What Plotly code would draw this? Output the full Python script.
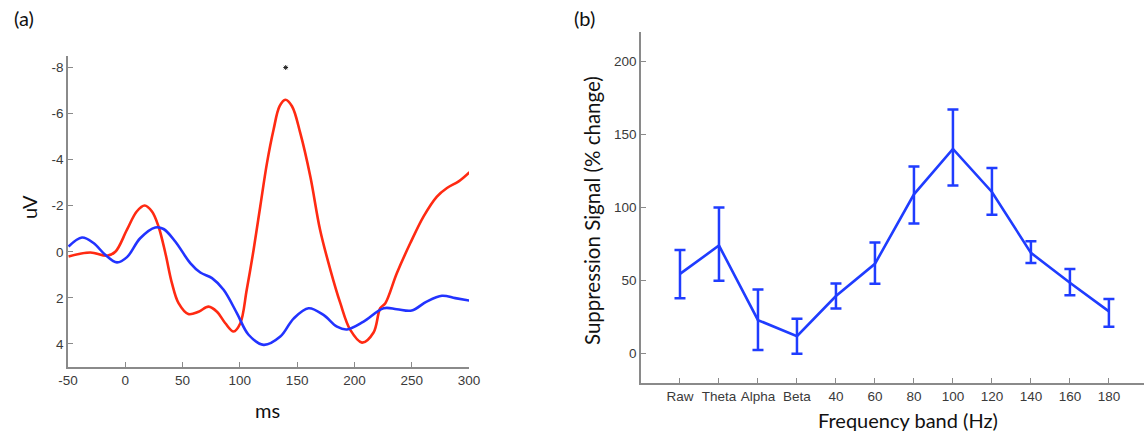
import plotly.graph_objects as go

W, H = 1144, 435

# ---------- Panel (a) data ----------
red_ms = [-49.5, -30.5, -16, -8.7, 1.5, 10, 16.9, 23.3, 29, 35, 40.7, 46.5, 55, 64, 72.7, 80, 87.3, 94.5,
          100.4, 106, 112, 117.8, 123.7, 129.4, 134.7, 139.7, 145.5, 152.7, 161.5, 170, 179, 187.7, 196.4,
          206.6, 216.7, 222.5, 227, 237, 248.8, 260.4, 272, 280.8, 291, 300.5]
red_uv = [0.2, 0.03, 0.17, 0.0, -0.96, -1.75, -2.01, -1.75, -1.1, 0.06, 1.36, 2.23, 2.7, 2.6, 2.38, 2.6, 3.1, 3.46,
          3.1, 1.65, -0.09, -1.97, -3.86, -5.3, -6.32, -6.6, -6.32, -5.16, -3.27, -0.96, 0.78, 2.23, 3.39,
          3.94, 3.5, 2.45, 2.23, 0.93, -0.38, -1.54, -2.4, -2.77, -3.06, -3.46]

blue_ms = [-49.5, -37.8, -27.7, -17.5, -7.3, 1.5, 13, 26.2, 33.4, 43.6, 56.7, 65.5, 75.7, 85.8, 97.5, 107.6,
           120.7, 135.3, 146.9, 160, 173, 184.8, 193.5, 208, 225.5, 237, 250, 263, 276.4, 288, 300.5]
blue_uv = [-0.23, -0.62, -0.38, 0.13, 0.46, 0.23, -0.59, -1.06, -0.99, -0.45, 0.49, 0.9, 1.14, 1.65, 2.67, 3.6,
           4.04, 3.68, 2.9, 2.45, 2.74, 3.25, 3.37, 3.03, 2.45, 2.49, 2.55, 2.16, 1.91, 2.01, 2.12]

star_ms = [140]
star_uv = [-8]

a_xticks = [-50, 0, 50, 100, 150, 200, 250, 300]
a_xticktext = ["-50", "0", "50", "100", "150", "200", "250", "300"]
a_yticks = [-8, -6, -4, -2, 0, 2, 4]
a_yticktext = ["-8", "-6", "-4", "-2", "0", "2", "4"]

# ---------- Panel (b) data ----------
bands = ["Raw", "Theta", "Alpha", "Beta", "40", "60", "80", "100", "120", "140", "160", "180"]
supp = [54.6, 74, 23, 12, 39.5, 61.5, 109, 140, 110.6, 69, 48.5, 29]
err_hi = [71, 100, 44, 24, 48, 76, 128, 167, 127, 77, 58, 37.5]
err_lo = [38, 50, 2.5, 0, 31, 47.8, 89, 115, 95, 62, 40, 18.5]
b_yticks = [0, 50, 100, 150, 200]

err_plus = [h - v for h, v in zip(err_hi, supp)]
err_minus = [v - l for l, v in zip(err_lo, supp)]
band_idx = list(range(len(bands)))

RED = "#ff2a12"
BLUE = "#2233ff"
BLUE_B = "#1f3cff"
AXC = "#8a8a8a"
TICKF = dict(family="Liberation Sans, Arial, sans-serif", size=13.5, color="#3a3a3a")
TITLEF = dict(family="Lato, Open Sans, sans-serif", size=20, color="#111111")


def px(x):
    return x / W


def py(y):
    return 1 - y / H


fig = go.Figure()

fig.add_trace(go.Scatter(x=red_ms, y=red_uv, mode="lines",
                         line=dict(color=RED, width=2.6, shape="spline", smoothing=1.0),
                         xaxis="x", yaxis="y", showlegend=False, hoverinfo="skip"))
fig.add_trace(go.Scatter(x=blue_ms, y=blue_uv, mode="lines",
                         line=dict(color=BLUE, width=2.6, shape="spline", smoothing=1.0),
                         xaxis="x", yaxis="y", showlegend=False, hoverinfo="skip"))
fig.add_trace(go.Scatter(x=star_ms, y=star_uv, mode="markers",
                         marker=dict(symbol="asterisk-open", size=4, color="#222", line=dict(width=1, color="#222")),
                         xaxis="x", yaxis="y", showlegend=False, hoverinfo="skip"))

fig.add_trace(go.Scatter(x=band_idx, y=supp, mode="lines", line=dict(color=BLUE_B, width=2.6),
                         error_y=dict(type="data", symmetric=False, array=err_plus, arrayminus=err_minus,
                                      color=BLUE_B, thickness=2.5, width=5.5),
                         xaxis="x2", yaxis="y2", showlegend=False, hoverinfo="skip"))

axis_common = dict(showline=True, linecolor=AXC, linewidth=1.5, ticks="inside", tickcolor=AXC, ticklen=5,
                   tickwidth=1, showgrid=False, zeroline=False, tickfont=TICKF, mirror=False, automargin=False)

fig.update_layout(
    width=W, height=H,
    margin=dict(l=0, r=0, t=0, b=0),
    paper_bgcolor="white", plot_bgcolor="white",
    xaxis=dict(domain=[px(68), px(469)], range=[-50, 300], tickvals=a_xticks, ticktext=a_xticktext,
               anchor="y", **axis_common),
    yaxis=dict(domain=[py(367), py(56)], range=[5, -8.5], tickvals=a_yticks, ticktext=a_yticktext,
               anchor="x", **axis_common),
    xaxis2=dict(domain=[px(641), 1.0], range=[-1, 11.9], tickvals=band_idx, ticktext=bands,
                anchor="y2", **axis_common),
    yaxis2=dict(domain=[py(383), py(32)], range=[-20, 220], tickvals=b_yticks,
                anchor="x2", **axis_common),
)

ann = [
    dict(text="(a)", x=px(24), y=py(18), font=dict(family="Lato, sans-serif", size=20, color="#111")),
    dict(text="(b)", x=px(584), y=py(18), font=dict(family="Lato, sans-serif", size=20, color="#111")),
    dict(text="uV", x=px(29), y=py(207), textangle=-90, font=TITLEF),
    dict(text="ms", x=px(267), y=py(410), font=TITLEF),
    dict(text="Suppression Signal (% change)", x=px(592), y=py(211), textangle=-90,
         font=dict(family="Lato, Open Sans, sans-serif", size=20.5, color="#111111")),
    dict(text="Frequency band (Hz)", x=px(908), y=py(420), font=TITLEF),
]
for a in ann:
    a.update(xref="paper", yref="paper", xanchor="center", yanchor="middle", showarrow=False)
fig.update_layout(annotations=ann)

fig.write_html("out.html")
